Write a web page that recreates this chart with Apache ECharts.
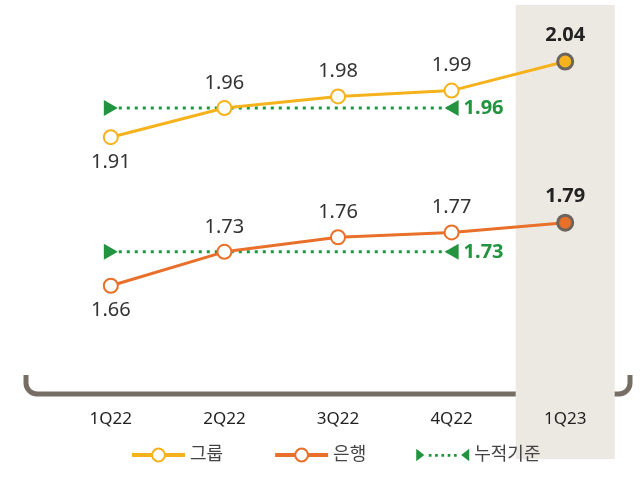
<!DOCTYPE html>
<html>
<head>
<meta charset="utf-8">
<script src="https://cdn.jsdelivr.net/npm/echarts@6/dist/echarts.min.js"></script>
<style>
  html, body { margin: 0; padding: 0; background: #fff; }
  #main { width: 641px; height: 491px; }
</style>
</head>
<body>
<div id="main"></div>
<script>
// 분기
const categories = ["1Q22", "2Q22", "3Q22", "4Q22", "1Q23"];
// 그룹 / 은행
const groupValues = [1.91, 1.96, 1.98, 1.99, 2.04];
const bankValues = [1.66, 1.73, 1.76, 1.77, 1.79];
// 누적기준 (1Q22 ~ 4Q22)
const groupCumulative = [1.96, 1.96, 1.96, 1.96, null];
const bankCumulative = [1.73, 1.73, 1.73, 1.73, null];
// 강조 분기
const highlight = [null, null, null, null, 1];

const FONT = "'Noto Sans', 'Noto Sans CJK KR', sans-serif";
const YELLOW = "#f6b21c";
const ORANGE = "#e8702a";
const GREEN = "#22933f";
const GRAY = "#766d64";

function lineData(values, color, belowIdx) {
  const last = values.length - 1;
  return values.map((v, i) => {
    const item = {
      value: v,
      label: { position: belowIdx.includes(i) ? "bottom" : "top" }
    };
    if (i === last) {
      item.symbol = "circle";
      item.symbolSize = 15;
      item.itemStyle = { color: color, borderColor: "#6c645e", borderWidth: 3 };
      item.label.fontWeight = "bold";
      item.label.color = "#222";
    }
    return item;
  });
}

function cumData(values) {
  let first = values.findIndex(v => v != null);
  let lastIdx = values.length - 1;
  while (values[lastIdx] == null) lastIdx--;
  return values.map((v, i) => {
    if (i === first) return { value: v, symbol: "triangle", symbolRotate: -90 };
    if (i === lastIdx)
      return {
        value: v,
        symbol: "triangle",
        symbolRotate: 90,
        label: {
          show: true,
          position: "right",
          distance: 5,
          color: GREEN,
          fontWeight: "bold",
          fontSize: 20,
          fontFamily: FONT
        }
      };
    return { value: v, symbol: "none" };
  });
}

const myChart = echarts.init(document.getElementById("main"), null, { renderer: "canvas" });

const valueLabel = {
  show: true,
  distance: 7,
  fontSize: 20,
  fontFamily: FONT,
  color: "#333"
};

const bracketStyle = { fill: null, stroke: GRAY, lineWidth: 5 };

const option = {
  backgroundColor: "#fff",
  animation: false,
  grid: [
    { left: 54, right: 19, top: 5, bottom: 96 },
    { left: 54, right: 19, top: 5, bottom: 32 }
  ],
  xAxis: [
    {
      type: "category",
      gridIndex: 0,
      data: categories,
      axisLine: { show: false },
      axisTick: { show: false },
      axisLabel: { margin: 16, fontSize: 17, fontFamily: FONT, color: "#222" }
    },
    { type: "category", gridIndex: 1, data: categories, show: false }
  ],
  yAxis: [
    { type: "value", gridIndex: 0, min: 1.467, max: 2.1371, show: false },
    { type: "value", gridIndex: 0, min: 1.4348, max: 2.2389, show: false },
    { type: "value", gridIndex: 1, min: 0, max: 1, show: false }
  ],
  legend: {
    left: 125,
    top: 441,
    itemWidth: 53,
    itemHeight: 16,
    itemGap: 50,
    lineStyle: { width: 4 },
    textStyle: { fontSize: 18, fontFamily: FONT, color: "#444" },
    data: [
      { name: "그룹" },
      { name: "은행" },
      {
        name: "누적기준",
        icon: "path://M0,0L9,7L0,14Z M14,6h3v3h-3Z M21,6h3v3h-3Z M28,6h3v3h-3Z M35,6h3v3h-3Z M42,6h3v3h-3Z M59,0L50,7L59,14Z",
        itemStyle: { color: GREEN }
      }
    ]
  },
  // 하단 괄호
  graphic: [
    { type: "line", silent: true, shape: { x1: 26, y1: 375, x2: 26, y2: 383 }, style: bracketStyle },
    { type: "arc", silent: true, shape: { cx: 37, cy: 383, r: 11, startAngle: Math.PI / 2, endAngle: Math.PI }, style: bracketStyle },
    { type: "line", silent: true, shape: { x1: 37, y1: 394, x2: 619, y2: 394 }, style: bracketStyle },
    { type: "arc", silent: true, shape: { cx: 619, cy: 383, r: 11, startAngle: 0, endAngle: Math.PI / 2 }, style: bracketStyle },
    { type: "line", silent: true, shape: { x1: 630, y1: 375, x2: 630, y2: 383 }, style: bracketStyle }
  ],
  series: [
    {
      type: "bar",
      name: "band",
      xAxisIndex: 1,
      yAxisIndex: 2,
      data: highlight,
      barWidth: 99,
      silent: true,
      z: 0,
      itemStyle: { color: "#ece8e2" }
    },
    {
      type: "line",
      name: "누적기준",
      yAxisIndex: 0,
      data: cumData(groupCumulative),
      symbolSize: [16, 14],
      lineStyle: { color: GREEN, width: 3, type: [3, 5] },
      itemStyle: { color: GREEN },
      z: 2
    },
    {
      type: "line",
      name: "누적기준",
      yAxisIndex: 1,
      data: cumData(bankCumulative),
      symbolSize: [16, 14],
      lineStyle: { color: GREEN, width: 3, type: [3, 5] },
      itemStyle: { color: GREEN },
      z: 2
    },
    {
      type: "line",
      name: "그룹",
      yAxisIndex: 0,
      data: lineData(groupValues, YELLOW, [0]),
      symbol: "emptyCircle",
      symbolSize: 14,
      lineStyle: { color: YELLOW, width: 3 },
      itemStyle: { color: YELLOW, borderWidth: 3 },
      label: valueLabel,
      z: 3
    },
    {
      type: "line",
      name: "은행",
      yAxisIndex: 1,
      data: lineData(bankValues, ORANGE, [0]),
      symbol: "emptyCircle",
      symbolSize: 14,
      lineStyle: { color: ORANGE, width: 3 },
      itemStyle: { color: ORANGE, borderWidth: 3 },
      label: valueLabel,
      z: 3
    }
  ]
};

myChart.setOption(option);
</script>
</body>
</html>
